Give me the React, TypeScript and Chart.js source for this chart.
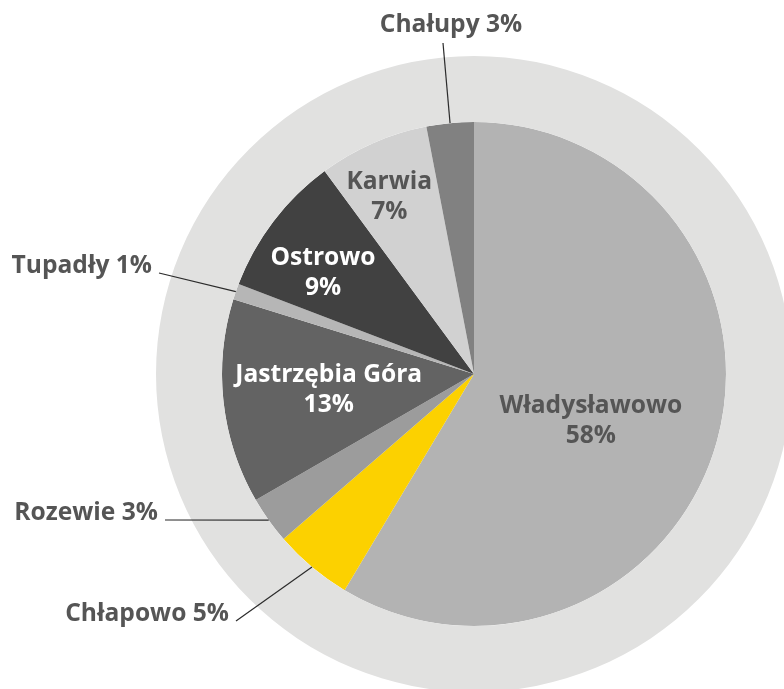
import React, { useEffect, useRef } from "react";
import { Chart, registerables } from "chart.js";

Chart.register(...registerables);

// ---- data ----
const places = ["Władysławowo", "Chłapowo", "Rozewie", "Jastrzębia Góra", "Tupadły", "Ostrowo", "Karwia", "Chałupy"];
const shares = [58, 5, 3, 13, 1, 9, 7, 3];
const sliceColors = ["#b3b3b3", "#fcd100", "#9c9c9c", "#636363", "#b6b6b6", "#414141", "#d1d1d1", "#818181"];
const ringTotal = [99];
const ringColor = "#e1e1e0";

// inside labels: [radius fraction, angle nudge (deg), text colour] ; null = outside label
const insideLabels: (null | [number, number, string])[] = [
  [0.5, 6.5, "#555555"],
  null,
  null,
  [0.58, 0, "#ffffff"],
  null,
  [0.72, -3.6, "#ffffff"],
  [0.78, -1.9, "#555555"],
  null,
];
// outside labels: leader end offset from pie centre (px), text alignment
const outsideLabels: (null | [number, number, "center" | "right"])[] = [
  null,
  [-238, 247, "right"],
  [-309, 146, "right"],
  null,
  [-315, -101, "right"],
  null,
  null,
  [-31, -331, "center"],
];

const FONT = "bold 24.6px 'Open Sans', sans-serif";

const labelPlugin = {
  id: "pieLabels",
  afterDatasetsDraw(chart: any) {
    const ctx = chart.ctx;
    const meta = chart.getDatasetMeta(1);
    const ds = chart.data.datasets[1];
    ctx.save();
    ctx.font = FONT;
    meta.data.forEach((arc: any, i: number) => {
      const { x, y, startAngle, endAngle, outerRadius } = arc.getProps(["x", "y", "startAngle", "endAngle", "outerRadius"], true);
      const mid = (startAngle + endAngle) / 2;
      const pct = ds.data[i] + "%";
      const inside = insideLabels[i];
      if (inside) {
        const a = mid + (inside[1] * Math.PI) / 180;
        const r = outerRadius * inside[0];
        const cx = x + Math.cos(a) * r;
        const cy = y + Math.sin(a) * r;
        ctx.fillStyle = inside[2];
        ctx.textAlign = "center";
        ctx.textBaseline = "middle";
        ctx.fillText(places[i], cx, cy - 15);
        ctx.fillText(pct, cx, cy + 15);
      }
      const out = outsideLabels[i];
      if (out) {
        const sx = x + Math.cos(mid) * outerRadius;
        const sy = y + Math.sin(mid) * outerRadius;
        const ex = x + out[0];
        const ey = y + out[1];
        ctx.strokeStyle = "#2b2b2b";
        ctx.lineWidth = 1.2;
        ctx.beginPath();
        ctx.moveTo(sx, sy);
        ctx.lineTo(ex, ey);
        ctx.stroke();
        ctx.fillStyle = "#555555";
        ctx.textBaseline = "alphabetic";
        const txt = places[i] + " " + pct;
        if (out[2] === "center") {
          ctx.textAlign = "center";
          ctx.fillText(txt, ex + 8, ey - 11);
        } else {
          ctx.textAlign = "right";
          ctx.fillText(txt, ex - 7, ey);
        }
      }
    });
    ctx.restore();
  },
};

export default function App() {
  const ref = useRef<HTMLCanvasElement>(null);
  useEffect(() => {
    if (!ref.current) return;
    const chart = new Chart(ref.current, {
      type: "pie",
      data: {
        labels: places,
        datasets: [
          { data: ringTotal, backgroundColor: [ringColor], borderWidth: 0, weight: 66 } as any,
          { data: shares, backgroundColor: sliceColors, borderWidth: 0, weight: 252 } as any,
        ],
      },
      options: {
        animation: false,
        responsive: false,
        events: [],
        layout: { padding: { left: 156, right: 156, top: 56, bottom: 56 } },
        plugins: { legend: { display: false }, tooltip: { enabled: false } },
        elements: { arc: { borderWidth: 0, hoverOffset: 0, offset: 0 } as any },
      } as any,
      plugins: [labelPlugin],
    });
    return () => chart.destroy();
  }, []);
  return (
    <div style={{ position: "fixed", left: 0, top: 0, width: 784, height: 689, overflow: "hidden", background: "#fff" }}>
      <canvas ref={ref} width={948} height={748} style={{ display: "block", width: 948, height: 748 }} />
    </div>
  );
}
